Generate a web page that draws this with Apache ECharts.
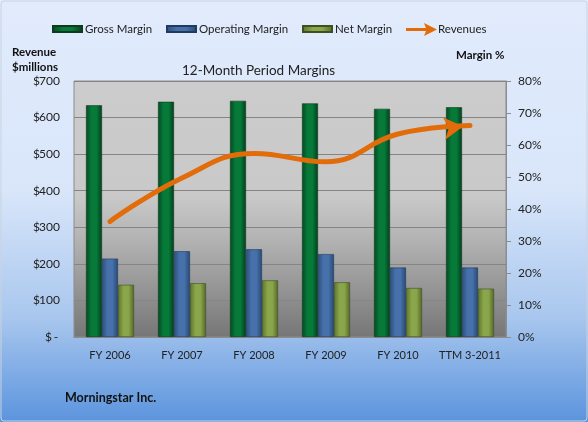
<!DOCTYPE html>
<html><head><meta charset="utf-8">
<script src="https://cdn.jsdelivr.net/npm/echarts@6/dist/echarts.min.js"></script>
<style>html,body{margin:0;padding:0;background:#fff}#c{width:588px;height:422px}</style>
</head><body><div id="c"></div>
<script>
const categories = ['FY 2006','FY 2007','FY 2008','FY 2009','FY 2010','TTM 3-2011'];
const grossMargin = [0.724, 0.735, 0.738, 0.730, 0.713, 0.718];
const operatingMargin = [0.245, 0.268, 0.274, 0.259, 0.217, 0.217];
const netMargin = [0.163, 0.168, 0.177, 0.171, 0.153, 0.151];
const revenues = [316, 435, 502, 479, 555, 578];
const revenueTicks = [0,100,200,300,400,500,600,700];
const marginTicks = [0,0.1,0.2,0.3,0.4,0.5,0.6,0.7,0.8];

const F = 'Lato, "Liberation Sans", sans-serif';
function hgrad(edge, mid, edge2){
  return {type:'linear',x:0,y:0,x2:1,y2:0,colorStops:[
    {offset:0,color:edge},{offset:0.35,color:mid},{offset:0.65,color:mid},{offset:1,color:edge2}]};
}
const chart = echarts.init(document.getElementById('c'));
const revData = revenues.map((v,i)=> i===revenues.length-1
  ? {value:v, symbol:'arrow', symbolSize:[17,19], symbolRotate:-84, symbolOffset:[-7,1]}
  : {value:v, symbol:'none'});
const legTxt = {fontFamily:F, fontSize:11.5, color:'#222', padding:[0,0,0,-2]};
function barLeg(name, left){
  return {left:left, top:18, itemWidth:29, itemHeight:6, icon:'rect', data:[name], textStyle:legTxt};
}
chart.setOption({
  animation:false,
  backgroundColor:{type:'linear',x:0,y:0,x2:0,y2:1,colorStops:[
    {offset:0,color:'#E1EBFC'},{offset:0.45,color:'#D9E6FA'},{offset:0.75,color:'#A9C7EE'},{offset:1,color:'#5B94DD'}]},
  textStyle:{fontFamily:F},
  title:{text:'12-Month Period Margins', left:177, top:59,
    textStyle:{fontFamily:F, fontSize:13.5, fontWeight:'normal', color:'#222'}},
  graphic:[
    {type:'rect', shape:{x:1,y:1,width:586,height:420,r:3}, style:{fill:'none',stroke:'#C9D3E0',lineWidth:1}, silent:true},
    {type:'text', left:12, top:46, style:{text:'Revenue', font:'bold 11.5px '+F, fill:'#111'}},
    {type:'text', left:12, top:61, style:{text:'$millions', font:'bold 11.5px '+F, fill:'#111'}},
    {type:'text', left:456, top:49, style:{text:'Margin %', font:'bold 11.5px '+F, fill:'#111'}},
    {type:'text', left:65, top:391, style:{text:'Morningstar Inc.', font:'bold 12.5px '+F, fill:'#111'}}
  ],
  legend:[
    barLeg('Gross Margin', 47),
    barLeg('Operating Margin', 161),
    barLeg('Net Margin', 297),
    {left:401, top:18, itemWidth:31, itemHeight:13,
     data:[{name:'Revenues', icon:'path://M0,5 L20,5 L18,0 L31,6.5 L18,13 L20,8 L0,8 Z'}],
     textStyle:{fontFamily:F, fontSize:11.5, color:'#222', padding:[0,0,0,-4]}}
  ],
  grid:{left:74, right:82, top:81, bottom:85, show:true, borderColor:'#8C8C8C', borderWidth:1,
    backgroundColor:{type:'linear',x:0,y:0,x2:0,y2:1,colorStops:[
      {offset:0,color:'#CCCCCC'},{offset:0.45,color:'#C9C9C9'},{offset:0.62,color:'#B3B3B3'},{offset:1,color:'#767676'}]}},
  xAxis:{type:'category', data:categories,
    axisLine:{show:true, lineStyle:{color:'#8C8C8C'}}, axisTick:{show:false},
    axisLabel:{interval:0, fontFamily:F, fontSize:11, color:'#222', margin:13}},
  yAxis:[
    {type:'value', min:0, max:700, interval:100, position:'left',
     axisLine:{show:false}, axisTick:{show:false},
     splitLine:{show:true, lineStyle:{color:'#858585', width:1}},
     axisLabel:{margin:14, fontFamily:F, fontSize:12, color:'#222',
       formatter:v=> v===0 ? '{d|$}{z|-}' : '{d|$}{n|'+v+'}',
       rich:{d:{fontFamily:F,fontSize:12,color:'#222'},
             n:{fontFamily:F,fontSize:12,color:'#222',width:20,align:'right'},
             z:{fontFamily:F,fontSize:12,color:'#222',width:8,align:'left'}}}},
    {type:'value', min:0, max:0.8, interval:0.1, position:'right',
     axisLine:{show:true, lineStyle:{color:'#8C8C8C'}},
     axisTick:{show:true, length:5, lineStyle:{color:'#8C8C8C'}},
     splitLine:{show:false},
     axisLabel:{margin:12, fontFamily:F, fontSize:12, color:'#222', formatter:v=>Math.round(v*100)+'%'}}
  ],
  series:[
    {name:'Gross Margin', type:'bar', yAxisIndex:1, data:grossMargin, barWidth:16, barGap:'0%',
     itemStyle:{color:hgrad('#034A22','#077A3A','#023E1C'), borderColor:'#0F3A1E', borderWidth:0.6}},
    {name:'Operating Margin', type:'bar', yAxisIndex:1, data:operatingMargin, barWidth:16, barGap:'0%',
     itemStyle:{color:hgrad('#2C4F80','#4671AA','#284874'), borderColor:'#223A5C', borderWidth:0.6}},
    {name:'Net Margin', type:'bar', yAxisIndex:1, data:netMargin, barWidth:16, barGap:'0%',
     itemStyle:{color:hgrad('#5C722F','#8AA64A','#55692A'), borderColor:'#3F4F22', borderWidth:0.6}},
    {name:'Revenues', type:'line', yAxisIndex:0, data:revData, smooth:0.45, z:5,
     color:'#E36C0A', lineStyle:{color:'#E36C0A', width:5, cap:'round'},
     itemStyle:{color:'#E36C0A'}}
  ]
});
</script></body></html>
